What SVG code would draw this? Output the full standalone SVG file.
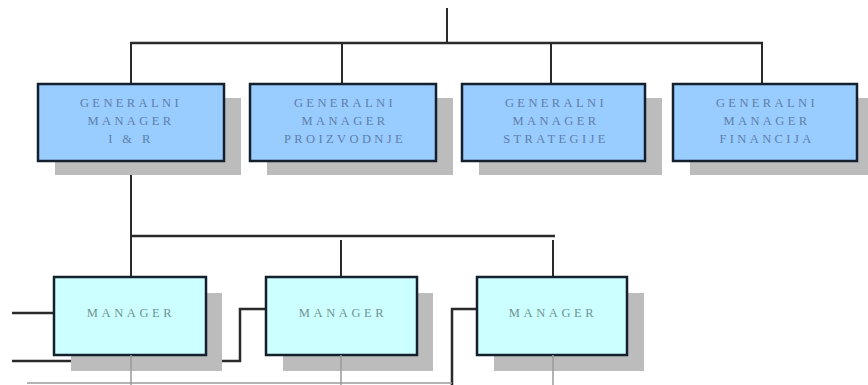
<svg xmlns="http://www.w3.org/2000/svg" width="868" height="385" viewBox="0 0 868 385">
<style>
.sh{fill:#bcbcbc}
.top{fill:#99ccff;stroke:#15202e;stroke-width:2.5}
.low{fill:#ccffff;stroke:#15202e;stroke-width:2.5}
.tt{font-family:"Liberation Serif",serif;font-size:12.5px;letter-spacing:3.4px;fill:#5e80a8;text-anchor:middle}
.lt{font-family:"Liberation Serif",serif;font-size:12.5px;letter-spacing:3.6px;fill:#6f9393;text-anchor:middle}
.c{fill:none;stroke:#2a2a2a;stroke-width:2.5}
.c2{fill:none;stroke:#2a2a2a;stroke-width:2}
.c3{fill:none;stroke:#9a9a9a;stroke-width:1.5}
</style>
<rect width="868" height="385" fill="#ffffff"/>
<g id="connectors">
<line class="c2" x1="447" y1="8" x2="447" y2="43"/>
<line class="c" x1="130" y1="43" x2="763" y2="43"/>
<line class="c2" x1="131" y1="43" x2="131" y2="84"/>
<line class="c2" x1="342" y1="43" x2="342" y2="84"/>
<line class="c2" x1="551" y1="43" x2="551" y2="84"/>
<line class="c2" x1="762" y1="43" x2="762" y2="84"/>
<line class="c2" x1="131" y1="161" x2="131" y2="277"/>
<line class="c" x1="131" y1="236" x2="555" y2="236"/>
<line class="c2" x1="341" y1="240" x2="341" y2="277"/>
<line class="c2" x1="553" y1="240" x2="553" y2="277"/>
<line class="c" x1="12" y1="313" x2="54" y2="313"/>
<polyline class="c" points="12,361 240,361 240,309 266,309"/>
<polyline class="c" points="477,309 452,309 452,385"/>
<line class="c3" x1="27" y1="383" x2="452" y2="383"/>
</g>
<g id="gm-ir">
<rect class="sh" x="55" y="98" width="186" height="77"/>
<rect class="top" x="38" y="84" width="186" height="77"/>
<text class="tt" x="131" y="107">GENERALNI</text>
<text class="tt" x="131" y="125">MANAGER</text>
<text class="tt" x="131" y="143">I &amp; R</text>
</g>
<g id="gm-proizvodnje">
<rect class="sh" x="267" y="98" width="186" height="77"/>
<rect class="top" x="250" y="84" width="186" height="77"/>
<text class="tt" x="345" y="107">GENERALNI</text>
<text class="tt" x="345" y="125">MANAGER</text>
<text class="tt" x="345" y="143">PROIZVODNJE</text>
</g>
<g id="gm-strategije">
<rect class="sh" x="479" y="98" width="183" height="77"/>
<rect class="top" x="462" y="84" width="183" height="77"/>
<text class="tt" x="556" y="107">GENERALNI</text>
<text class="tt" x="556" y="125">MANAGER</text>
<text class="tt" x="556" y="143">STRATEGIJE</text>
</g>
<g id="gm-financija">
<rect class="sh" x="690" y="98" width="184" height="77"/>
<rect class="top" x="673" y="84" width="184" height="77"/>
<text class="tt" x="767" y="107">GENERALNI</text>
<text class="tt" x="767" y="125">MANAGER</text>
<text class="tt" x="767" y="143">FINANCIJA</text>
</g>
<g id="manager-1">
<rect class="sh" x="71" y="293" width="151" height="78"/>
<rect class="low" x="54" y="277" width="152" height="78"/>
<text class="lt" x="131" y="317">MANAGER</text>
</g>
<g id="manager-2">
<rect class="sh" x="283" y="293" width="150" height="78"/>
<rect class="low" x="266" y="277" width="151" height="78"/>
<text class="lt" x="343" y="317">MANAGER</text>
</g>
<g id="manager-3">
<rect class="sh" x="494" y="293" width="150" height="78"/>
<rect class="low" x="477" y="277" width="150" height="78"/>
<text class="lt" x="553" y="317">MANAGER</text>
</g>
<g id="connectors-under">
<line class="c3" x1="131" y1="355" x2="131" y2="385"/>
<line class="c3" x1="341" y1="355" x2="341" y2="385"/>
<line class="c3" x1="553" y1="355" x2="553" y2="385"/>
</g>
</svg>
